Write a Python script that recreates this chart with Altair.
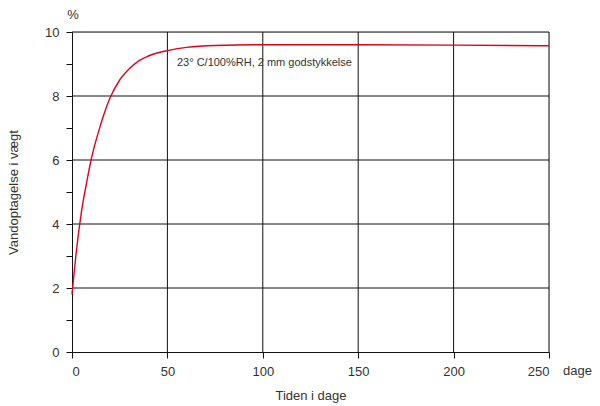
import altair as alt
import pandas as pd

days = [0, 2, 5, 8, 10, 15, 20, 25, 30, 35, 40, 50, 60, 75, 100, 150, 200, 250]
uptake = [1.8, 3.0, 4.4, 5.4, 6.0, 7.1, 7.95, 8.5, 8.85, 9.1, 9.25, 9.42, 9.52, 9.58, 9.6, 9.6, 9.59, 9.57]
x_grid = [50, 100, 150, 200, 250]
y_grid = [2, 4, 6, 8, 10]
y_ticks = [0, 1, 2, 3, 4, 5, 6, 7, 8, 9, 10]
x_ticks = [0, 50, 100, 150, 200, 250]
note = "23° C/100%RH, 2 mm godstykkelse"

FONT = "Liberation Sans"
TXT = "#333333"

df = pd.DataFrame({"t": days, "v": uptake})
xs = alt.Scale(domain=[0, 250], nice=False, zero=False)
ys = alt.Scale(domain=[0, 10], nice=False)

xa = alt.Axis(values=x_ticks, title="Tiden i dage", grid=False,
              domainColor="#111", tickColor="#111", tickWidth=1, tickSize=6, ticks=True,
              labelFontSize=13, labelColor=TXT, labelFont=FONT, titleFont=FONT, titleFontSize=13,
              titleFontWeight="normal", titleColor=TXT, labelPadding=7, titlePadding=11)
ya = alt.Axis(values=y_ticks, title="Vandoptagelse i vægt", grid=False,
              labelExpr="datum.value % 2 == 0 ? datum.label : ''",
              domainColor="#111", tickColor="#111", tickWidth=1, tickSize=6, ticks=True,
              labelFontSize=13, labelColor=TXT, labelFont=FONT, titleFont=FONT, titleFontSize=13,
              titleFontWeight="normal", titleColor=TXT, labelPadding=7, titlePadding=24)


def X(f):
    return alt.X(f, scale=xs, axis=xa)


def Y(f):
    return alt.Y(f, scale=ys, axis=ya)


vgrid = alt.Chart(pd.DataFrame({"g": x_grid})).mark_rule(color="#111", strokeWidth=1).encode(
    x=X("g:Q"))
hgrid = alt.Chart(pd.DataFrame({"g": y_grid})).mark_rule(color="#111", strokeWidth=1).encode(
    y=Y("g:Q"))

base = alt.Chart(df).mark_line(color="#e2001a", strokeWidth=1.4, interpolate="monotone").encode(
    x=X("t:Q"), y=Y("v:Q"))

note_df = pd.DataFrame({"t": [55], "v": [9.03], "s": [note]})
note_txt = alt.Chart(note_df).mark_text(align="left", baseline="middle", fontSize=11, font=FONT, color=TXT).encode(
    x=X("t:Q"), y=Y("v:Q"), text="s:N")

pct = alt.Chart(pd.DataFrame({"t": [0], "v": [10], "s": ["%"]})).mark_text(
    align="center", baseline="middle", fontSize=13, font=FONT, color=TXT, dy=-17, dx=1).encode(
    x=X("t:Q"), y=Y("v:Q"), text="s:N")

dage = alt.Chart(pd.DataFrame({"t": [250], "v": [0], "s": ["dage"]})).mark_text(
    align="left", baseline="top", fontSize=13, font=FONT, color=TXT, dx=14, dy=13).encode(
    x=X("t:Q"), y=Y("v:Q"), text="s:N")

chart = alt.layer(vgrid, hgrid, base, note_txt, pct, dage).properties(
    width=477, height=320,
    autosize=alt.AutoSizeParams(type="none"),
    padding={"left": 72, "top": 32, "right": 51, "bottom": 54},
).configure_view(strokeWidth=0).configure(background="white")

chart.save("out.html", embed_options={"renderer": "svg", "actions": False})
